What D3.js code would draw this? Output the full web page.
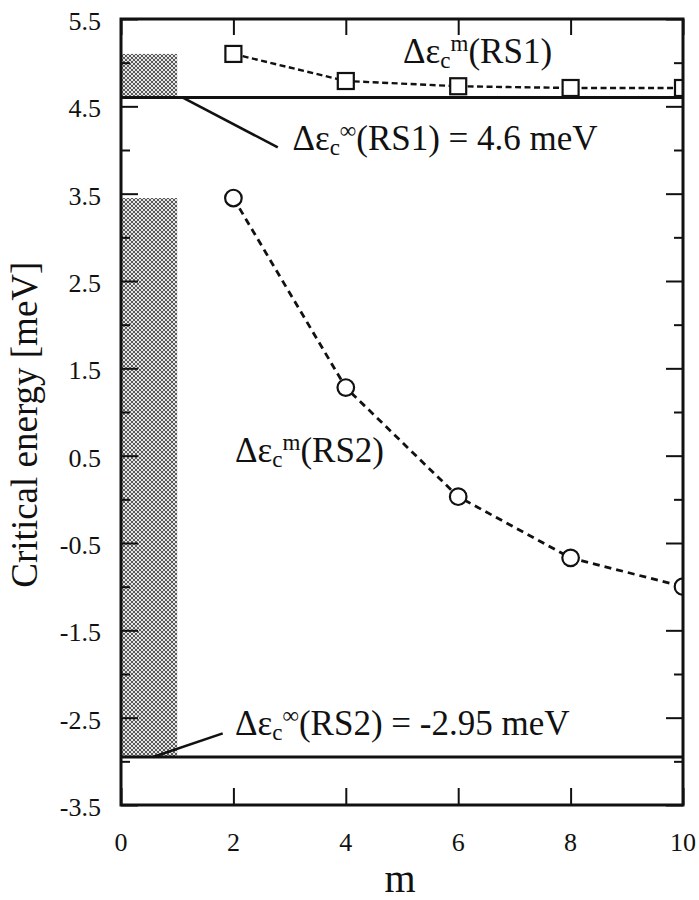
<!DOCTYPE html>
<html>
<head>
<meta charset="utf-8">
<script src="https://cdn.jsdelivr.net/npm/d3@7"></script>
<style>
  html, body { margin: 0; padding: 0; background: #fff; }
  svg { display: block; }
</style>
</head>
<body>
<svg id="chart" width="699" height="900"></svg>
<script>
// Critical energy versus m for the two reconstructions
const mValues   = [2, 4, 6, 8, 10];
const rs1Values = [5.10, 4.79, 4.73, 4.71, 4.71];
const rs2Values = [3.45, 1.28, 0.03, -0.67, -1.00];

// limits for m -> infinity
const limitRS1 = 4.6;
const limitRS2 = -2.95;

// tick values and labels
const xTicks      = [0, 2, 4, 6, 8, 10];
const xTickLabels = ["0", "2", "4", "6", "8", "10"];
const yMajorTicks = [-3.5, -2.5, -1.5, -0.5, 0.5, 1.5, 2.5, 3.5, 4.5, 5.5];
const yTickLabels = ["-3.5", "-2.5", "-1.5", "-0.5", "0.5", "1.5", "2.5", "3.5", "4.5", "5.5"];
const yMinorTicks = [-3, -2, -1, 0, 1, 2, 3, 4, 5];

// shaded ranges between the limit and the m = 2 value
const bandM = [0, 1];
const bands = [
  { lo: limitRS1, hi: rs1Values[0] },
  { lo: limitRS2, hi: rs2Values[0] }
];

const SERIF = "Liberation Serif";

const svg = d3.select("#chart");
const margin = { left: 121, top: 19, right: 16, bottom: 95 };
const W = 699 - margin.left - margin.right;
const H = 900 - margin.top - margin.bottom;

const x = d3.scaleLinear().domain([0, 10]).range([0, W]);
const y = d3.scaleLinear().domain([-3.5, 5.5]).range([H, 0]);

const defs = svg.append("defs");
const pat = defs.append("pattern")
  .attr("id", "stipple").attr("patternUnits", "userSpaceOnUse")
  .attr("width", 4).attr("height", 4);
pat.append("rect").attr("width", 4).attr("height", 4).attr("fill", "#e4e4e4");
pat.append("rect").attr("width", 2).attr("height", 2).attr("fill", "#5a5a5a");
pat.append("rect").attr("x", 2).attr("y", 2).attr("width", 2).attr("height", 2).attr("fill", "#5a5a5a");

defs.append("clipPath").attr("id", "plotClip")
  .append("rect").attr("width", W).attr("height", H);

const g = svg.append("g").attr("transform", `translate(${margin.left},${margin.top})`);

// shaded bands
g.selectAll("rect.band").data(bands).join("rect")
  .attr("class", "band")
  .attr("x", x(bandM[0])).attr("width", x(bandM[1]) - x(bandM[0]))
  .attr("y", d => y(d.hi)).attr("height", d => y(d.lo) - y(d.hi))
  .attr("fill", "url(#stipple)");

// limit lines
g.selectAll("line.limit").data([limitRS1, limitRS2]).join("line")
  .attr("class", "limit")
  .attr("x1", 0).attr("x2", W)
  .attr("y1", d => y(d)).attr("y2", d => y(d))
  .attr("stroke", "#111").attr("stroke-width", 3);

// inward ticks on all four sides
function tickLines(sel) {
  sel.select(".domain").remove();
  sel.selectAll(".tick line").attr("stroke", "#111").attr("stroke-width", 2);
  sel.selectAll(".tick text").remove();
}
g.append("g").call(d3.axisLeft(y).tickValues(yMajorTicks).tickSize(-17).tickFormat("")).call(tickLines);
g.append("g").call(d3.axisLeft(y).tickValues(yMinorTicks).tickSize(-9).tickFormat("")).call(tickLines);
g.append("g").attr("transform", `translate(${W},0)`)
  .call(d3.axisRight(y).tickValues(yMajorTicks).tickSize(-17).tickFormat("")).call(tickLines);
g.append("g").attr("transform", `translate(${W},0)`)
  .call(d3.axisRight(y).tickValues(yMinorTicks).tickSize(-9).tickFormat("")).call(tickLines);
g.append("g").attr("transform", `translate(0,${H})`)
  .call(d3.axisBottom(x).tickValues(xTicks).tickSize(-17).tickFormat("")).call(tickLines);
g.append("g")
  .call(d3.axisTop(x).tickValues(xTicks).tickSize(-16).tickFormat("")).call(tickLines);

// tick labels
const yLabels = g.append("g").attr("font-family", SERIF).attr("font-size", 26).attr("fill", "#111");
yMajorTicks.forEach((v, i) => {
  yLabels.append("text").attr("x", -20).attr("y", y(v) + 11)
    .attr("text-anchor", "end").text(yTickLabels[i]);
});
const xLabels = g.append("g").attr("font-family", SERIF).attr("font-size", 26).attr("fill", "#111");
xTicks.forEach((v, i) => {
  xLabels.append("text").attr("x", x(v)).attr("y", H + 46)
    .attr("text-anchor", "middle").text(xTickLabels[i]);
});

// series
const rs1 = mValues.map((m, i) => [m, rs1Values[i]]);
const rs2 = mValues.map((m, i) => [m, rs2Values[i]]);
const line = d3.line().x(d => x(d[0])).y(d => y(d[1]));

const plot = g.append("g").attr("clip-path", "url(#plotClip)");
plot.append("path").datum(rs1).attr("d", line)
  .attr("fill", "none").attr("stroke", "#111").attr("stroke-width", 2.4).attr("stroke-dasharray", "6,3.5");
plot.append("path").datum(rs2).attr("d", line)
  .attr("fill", "none").attr("stroke", "#111").attr("stroke-width", 2.8).attr("stroke-dasharray", "7,5");

const sq = 16;
plot.selectAll("rect.rs1").data(rs1).join("rect")
  .attr("class", "rs1")
  .attr("x", d => x(d[0]) - sq / 2).attr("y", d => y(d[1]) - sq / 2)
  .attr("width", sq).attr("height", sq)
  .attr("fill", "#fff").attr("stroke", "#111").attr("stroke-width", 2.2);
plot.selectAll("circle.rs2").data(rs2).join("circle")
  .attr("class", "rs2")
  .attr("cx", d => x(d[0])).attr("cy", d => y(d[1])).attr("r", 8.3)
  .attr("fill", "#fff").attr("stroke", "#111").attr("stroke-width", 2.2);

// leader lines from the limit lines to their labels
const leaders = [
  { from: [1.1, limitRS1], to: [2.79, 4.03] },
  { from: [0.57, limitRS2], to: [1.81, -2.68] }
];
g.selectAll("line.leader").data(leaders).join("line")
  .attr("class", "leader")
  .attr("x1", d => x(d.from[0])).attr("y1", d => y(d.from[1]))
  .attr("x2", d => x(d.to[0])).attr("y2", d => y(d.to[1]))
  .attr("stroke", "#111").attr("stroke-width", 2.6);

// annotation labels: Δε, subscript c, superscript, remainder
const annotations = [
  { m: 5.02, v: 5.0,   sup: "m", rest: "(RS1)" },
  { m: 3.05, v: 4.0,   sup: "\u221E", rest: "(RS1) = 4.6 meV" },
  { m: 2.03, v: 0.43,  sup: "m", rest: "(RS2)" },
  { m: 2.03, v: -2.70, sup: "\u221E", rest: "(RS2) = -2.95 meV" }
];
annotations.forEach(a => {
  const t = g.append("text").attr("x", x(a.m)).attr("y", y(a.v))
    .attr("font-family", SERIF).attr("font-size", 35).attr("fill", "#111");
  t.append("tspan").text("\u0394\u03B5");
  t.append("tspan").attr("font-size", 23).attr("dy", 5).text("c");
  t.append("tspan").attr("font-size", 23).attr("dy", -17).text(a.sup);
  t.append("tspan").attr("dy", 12).text(a.rest);
});

// frame
g.append("rect").attr("width", W).attr("height", H)
  .attr("fill", "none").attr("stroke", "#111").attr("stroke-width", 3);

// axis titles
g.append("text").attr("x", W / 2 - 2).attr("y", H + 87)
  .attr("text-anchor", "middle").attr("font-family", SERIF).attr("font-size", 40)
  .attr("fill", "#111").text("m");
svg.append("text")
  .attr("transform", `translate(37,${margin.top + y(0.5) - 31}) rotate(-90)`)
  .attr("text-anchor", "middle").attr("font-family", SERIF).attr("font-size", 37)
  .attr("fill", "#111").text("Critical energy [meV]");
</script>
</body>
</html>
